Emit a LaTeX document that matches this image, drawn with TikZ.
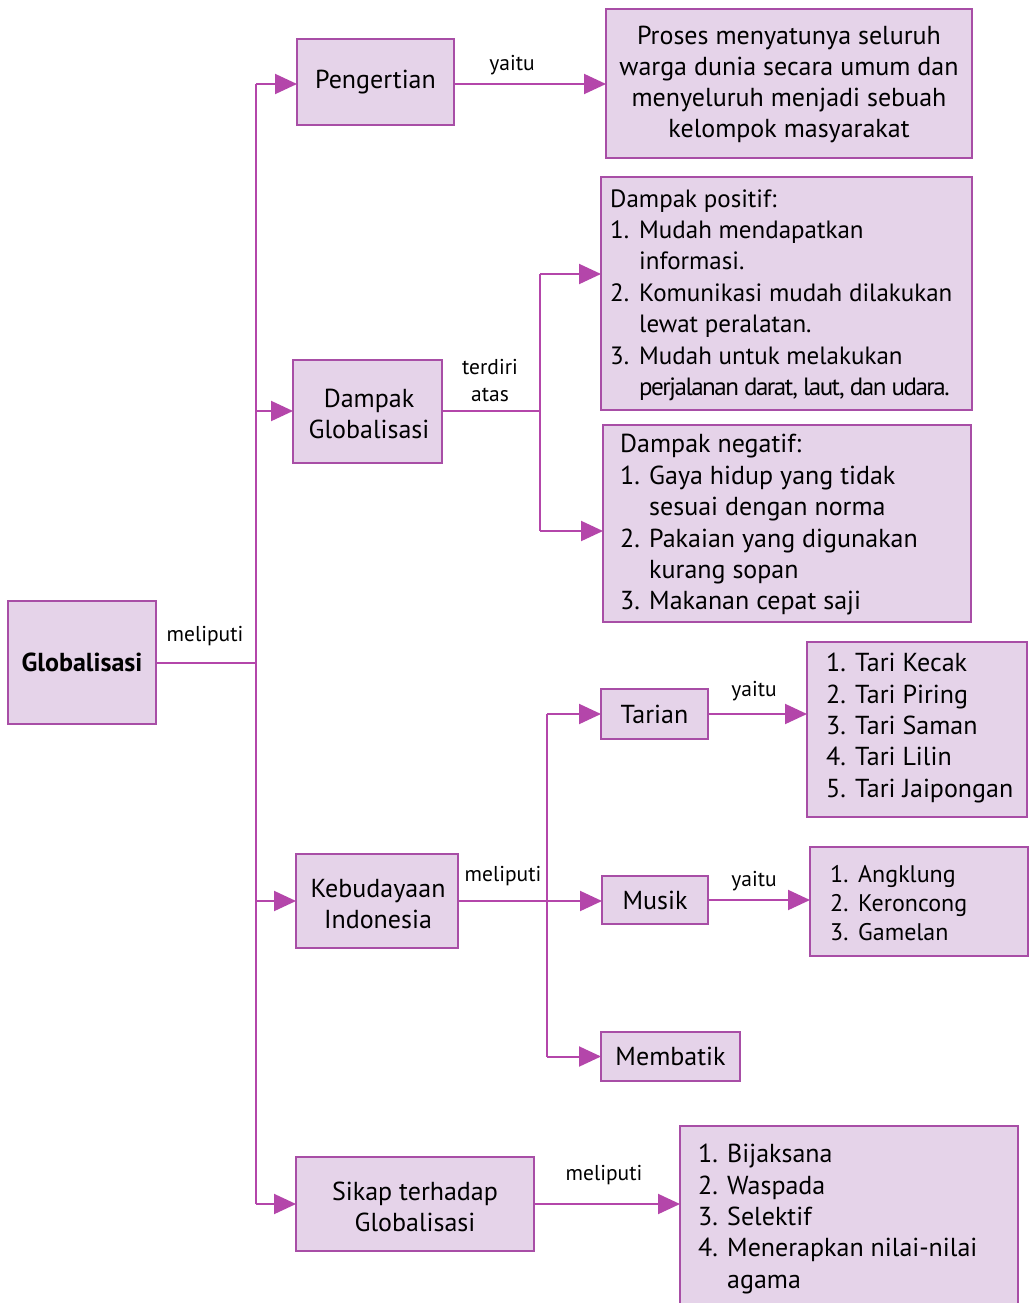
\documentclass[tikz,border=0pt]{standalone}
\usepackage{fontspec}
\setmainfont{PT Sans}
\usetikzlibrary{arrows.meta}
\definecolor{boxfill}{RGB}{229,211,233}
\definecolor{boxline}{RGB}{168,78,166}
\definecolor{conn}{RGB}{180,70,170}
\newcommand\nm[1]{\makebox[29pt][l]{#1}}
\newcommand\ind{\hspace*{29pt}}
\newcommand\dn[1]{\raisebox{-3pt}{#1}}
\tikzset{
  box/.style={draw=boxline, fill=boxfill, line width=2pt, inner sep=0pt, align=center,
    font=\fontsize{26}{31}\selectfont},
  listtext/.style={anchor=west, inner sep=0pt, align=left, font=\fontsize{26}{31.4}\selectfont},
  lbl/.style={inner sep=0pt, font=\fontsize{21.5}{27}\selectfont},
  conline/.style={draw=conn, line width=2pt},
  arr/.style={conline, -{Triangle[length=22pt,width=20pt]}, shorten >=-1pt},
}
\begin{document}
\begin{tikzpicture}[x=1pt,y=-1pt]
\useasboundingbox[fill=white] (0,0) rectangle (1029,1303);
% boxes
\node[box, minimum width=148pt, minimum height=123pt, font=\fontsize{26}{31}\selectfont\bfseries] (G) at (82,662.5) {\dn{Globalisasi}};
\node[box, minimum width=157pt, minimum height=86pt] (P) at (375.5,82) {\dn{Pengertian}};
\node[box, minimum width=366pt, minimum height=149pt] (Def) at (789,83.5) {};
\node[inner sep=0pt, align=center, font=\fontsize{26}{31}\selectfont] (DefT) at (789,84) {Proses menyatunya seluruh\\warga dunia secara umum dan\\menyeluruh menjadi sebuah\\kelompok masyarakat};
\node[box, minimum width=149pt, minimum height=103pt] (D) at (367.5,411) {};
\node[inner sep=0pt, align=center, font=\fontsize{26}{31}\selectfont] (DT) at (369,414) {Dampak\\Globalisasi};
\node[box, minimum width=371pt, minimum height=233pt] (Pos) at (786.5,293.5) {};
\node[listtext, font=\fontsize{25}{31.4}\selectfont] (PosT) at (610,295) {Dampak positif:\\\nm{1.}Mudah mendapatkan\\\ind informasi.\\\nm{2.}Komunikasi mudah dilakukan\\\ind lewat peralatan.\\\nm{3.}Mudah untuk melakukan\\\ind {\addfontfeature{LetterSpace=-6}perjalanan darat, laut, dan udara.}};
\node[box, minimum width=368pt, minimum height=197pt] (Neg) at (787,523.5) {};
\node[listtext] (NegT) at (620,525) {Dampak negatif:\\\nm{1.}Gaya hidup yang tidak\\\ind sesuai dengan norma\\\nm{2.}Pakaian yang digunakan\\\ind kurang sopan\\\nm{3.}Makanan cepat saji};
\node[box, minimum width=162pt, minimum height=94pt] (K) at (377,901) {};
\node[inner sep=0pt, align=center, font=\fontsize{26}{31}\selectfont] (KT) at (378,904) {Kebudayaan\\Indonesia};
\node[box, minimum width=107pt, minimum height=50pt] (T) at (654.5,714) {\dn{Tarian}};
\node[box, minimum width=220pt, minimum height=175pt] (TL) at (917,729.5) {};
\node[listtext] (TLT) at (826,728) {\nm{1.}Tari Kecak\\\nm{2.}Tari Piring\\\nm{3.}Tari Saman\\\nm{4.}Tari Lilin\\\nm{5.}Tari Jaipongan};
\node[box, minimum width=106pt, minimum height=48pt] (M) at (655,900) {\dn{Musik}};
\node[box, minimum width=218pt, minimum height=109pt] (ML) at (919,901.5) {};
\node[listtext, font=\fontsize{24}{29}\selectfont] (MLT) at (830,903) {\makebox[28pt][l]{1.}Angklung\\\makebox[28pt][l]{2.}Keroncong\\\makebox[28pt][l]{3.}Gamelan};
\node[box, minimum width=139pt, minimum height=49pt] (B) at (670.5,1056.5) {\dn{Membatik}};
\node[box, minimum width=238pt, minimum height=94pt] (S) at (415,1204) {};
\node[inner sep=0pt, align=center, font=\fontsize{26}{31}\selectfont] (ST) at (415,1207) {Sikap terhadap\\Globalisasi};
\node[box, minimum width=338pt, minimum height=180pt] (SL) at (849,1216) {};
\node[listtext] (SLT) at (698,1219) {\nm{1.}Bijaksana\\\nm{2.}Waspada\\\nm{3.}Selektif\\\nm{4.}Menerapkan nilai-nilai\\\ind agama};
% trunk
\coordinate (tj) at (256,662.5);
\coordinate (tt) at (256,84);
\coordinate (tb) at (256,1204);
\draw[conline] (G.east) -- (tj);
\draw[conline] (tt) -- (tb);
\draw[arr] (tt) -- (tt -| P.west);
\draw[arr] (256,411) -- (D.west);
\draw[arr] (256,901) -- (K.west);
\draw[arr] (tb) -- (S.west);
\draw[arr] (P.east |- tt) -- (Def.west |- tt);
% dampak
\coordinate (dj) at (540,411);
\coordinate (dt) at (540,274);
\coordinate (db) at (540,531);
\draw[conline] (D.east) -- (dj);
\draw[conline] (dt) -- (db);
\draw[arr] (dt) -- (dt -| Pos.west);
\draw[arr] (db) -- (db -| Neg.west);
% kebudayaan
\coordinate (kt) at (547,714);
\coordinate (kb) at (547,1056.5);
\draw[arr] (K.east) -- (M.west |- K.east);
\draw[conline] (kt) -- (kb);
\draw[arr] (kt) -- (T.west);
\draw[arr] (kb) -- (B.west);
\draw[arr] (T.east) -- (TL.west |- T.east);
\draw[arr] (M.east) -- (ML.west |- M.east);
% sikap
\draw[arr] (S.east) -- (SL.west |- S.east);
% labels
\node[lbl] (l1) at (205,636) {meliputi};
\node[lbl] (l2) at (512,65) {yaitu};
\node[lbl, align=center, font=\fontsize{21.5}{27}\selectfont] (l3) at (490,381) {terdiri\\atas};
\node[lbl] (l4) at (503,876) {meliputi};
\node[lbl] (l5) at (754,691) {yaitu};
\node[lbl] (l6) at (754,881) {yaitu};
\node[lbl] (l7) at (604,1175) {meliputi};
\end{tikzpicture}
\end{document}
